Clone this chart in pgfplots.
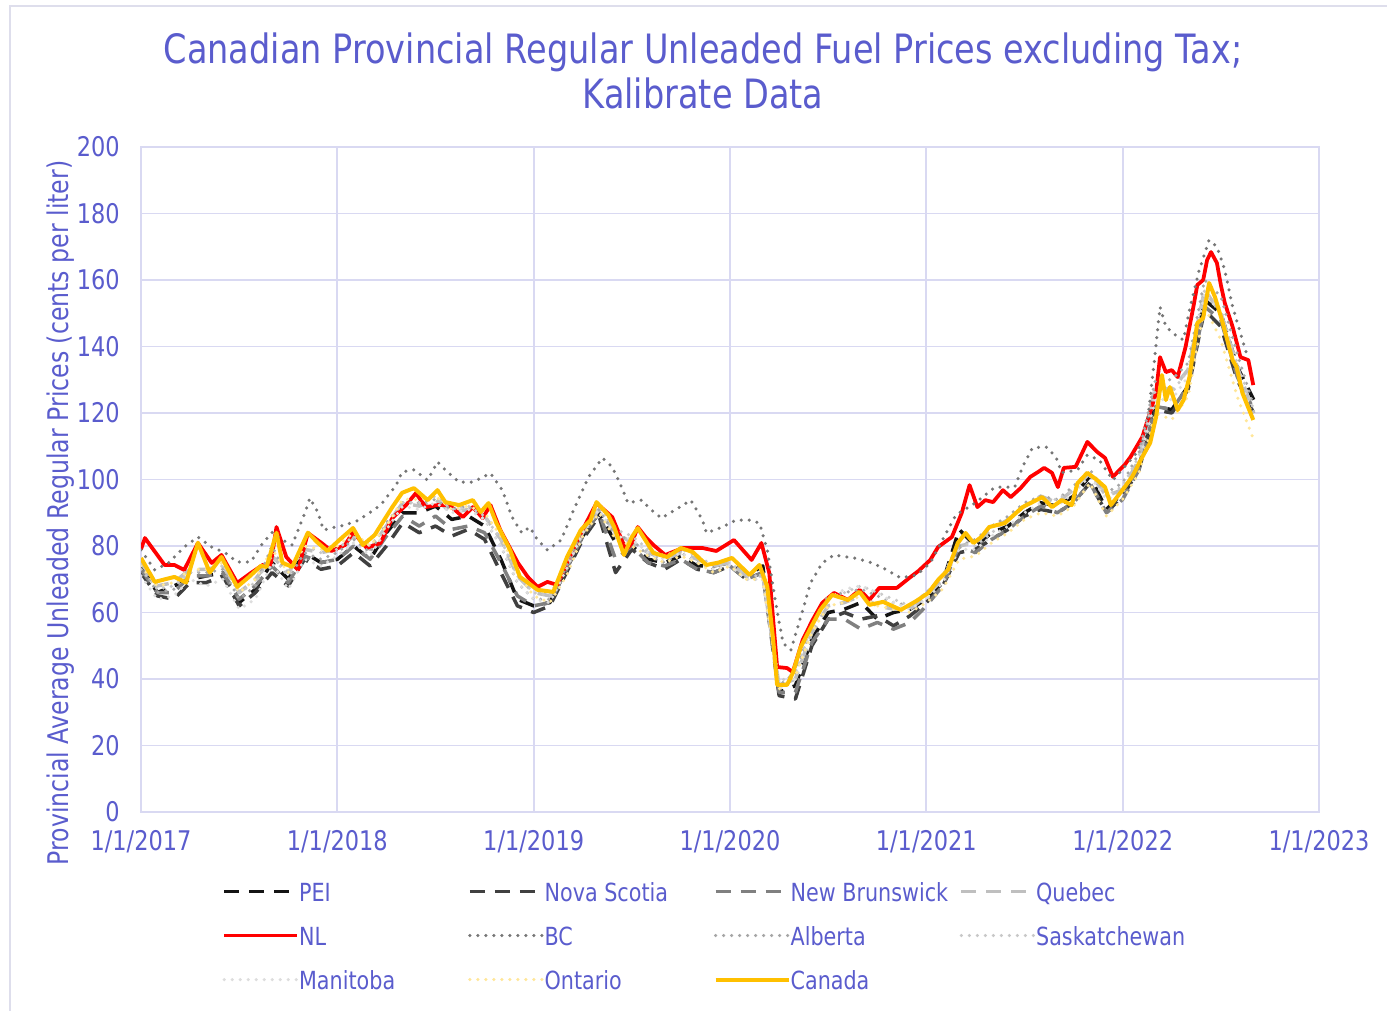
\documentclass[border=0pt]{standalone}
\usepackage{fontspec}
\setmainfont{DejaVu Sans}[FakeStretch=0.83]
\usepackage{pgfplots}
\usepackage{pgfplotstable}
\pgfplotsset{compat=1.18}

\definecolor{txt}{RGB}{90,92,205}
\definecolor{gridc}{RGB}{217,217,242}
\definecolor{framec}{RGB}{222,222,236}
\definecolor{peic}{RGB}{20,20,20}
\definecolor{nsc}{RGB}{64,64,64}
\definecolor{nbc}{RGB}{128,128,128}
\definecolor{qcc}{RGB}{191,191,191}
\definecolor{nlc}{RGB}{255,0,0}
\definecolor{bcc}{RGB}{118,118,118}
\definecolor{abc}{RGB}{166,166,166}
\definecolor{skc}{RGB}{200,200,200}
\definecolor{mbc}{RGB}{221,221,221}
\definecolor{onc}{RGB}{255,230,153}
\definecolor{cac}{RGB}{255,192,0}

% pixel position of the reference -> picture coordinates (1 px = 0.2 mm)
\newcommand\px[2]{({((#1)-141)*0.2},{(812-(#2))*0.2})}

% monthly values of the provinces drawn in grey / light yellow
\pgfplotstableread{
x        pei ns  nb  qc  ab  sk  mb  on
2017.000 74  72  73  75  74  73  71  74
2017.083 66  65  66  68  66  67  64  68
2017.167 68  64  66  69  67  68  65  69
2017.250 70  69  71  73  72  72  70  73
2017.333 71  69  71  73  72  73  68  73
2017.417 72  71  72  74  73  74  70  75
2017.500 63  62  64  66  64  66  61  66
2017.583 67  66  68  70  68  69  64  70
2017.667 75  72  74  77  80  77  75  79
2017.750 70  68  69  72  70  71  67  72
2017.833 78  76  77  79  78  80  76  80
2017.917 75  73  75  78  76  78  74  79
2018.000 76  74  76  79  78  79  77  80
2018.083 80  78  80  83  82  83  81  84
2018.167 76  74  76  79  78  80  77  80
2018.250 84  80  83  86  87  86  85  86
2018.333 90  87  89  93  93  93  92  94
2018.417 90  84  86  92  93  93  91  94
2018.500 92  86  89  94  94  95  93  95
2018.583 88  83  85  90  91  91  90  91
2018.667 89  85  86  91  92  92  91  92
2018.750 86  82  84  89  88  89  88  90
2018.833 76  72  75  82  80  82  80  83
2018.917 64  62  65  71  69  71  69  72
2019.000 62  60  62  66  64  66  64  65
2019.083 63  62  63  65  64  65  63  63
2019.167 73  72  73  74  74  75  73  71
2019.250 83  82  83  84  85  85  84  83
2019.333 90  89  90  91  91  92  91  90
2019.417 81  72  76  84  83  85  83  82
2019.500 80  79  80  81  82  83  82  80
2019.583 76  75  75  78  77  79  78  77
2019.667 75  73  74  76  75  77  76  75
2019.750 77  76  76  78  78  79  78  77
2019.833 74  73  73  76  75  77  75  75
2019.917 74  72  72  74  73  74  73  72
2020.000 75  74  74  75  74  75  74  74
2020.083 71  70  70  71  70  71  70  70
2020.167 74  72  72  71  70  71  70  70
2020.250 36  35  36  38  38  39  37  37
2020.333 38  34  36  40  42  42  40  41
2020.417 52  50  51  54  56  56  55  54
2020.500 60  58  58  62  65  64  64  62
2020.583 61  60  58  63  66  66  67  63
2020.667 63  58  55  65  67  68  68  65
2020.750 58  59  57  62  65  66  66  62
2020.833 60  56  55  61  63  64  63  61
2020.917 61  59  57  61  62  62  61  60
2021.000 64  63  62  65  66  66  64  63
2021.083 69  68  68  70  71  71  69  67
2021.167 85  78  80  80  80  81  79  76
2021.250 80  79  78  81  82  80  79  77
2021.333 84  82  82  85  86  84  83  81
2021.417 86  85  85  88  89  88  86  84
2021.500 90  89  89  92  93  92  90  88
2021.583 93  91  92  95  95  94  93  90
2021.667 92  90  90  93  94  94  92  89
2021.750 95  93  93  97  98  97  96  92
2021.833 101 99  99  102 103 102 101 99
2021.917 91  90  90  95  96  95  94  89
2022.000 96  95  94  97  99  98  96  94
2022.083 104 103 103 106 108 107 105 102
2022.167 122 121 122 128 130 127 124 120
2022.250 121 120 121 127 130 126 124 118
2022.333 128 127 128 133 135 133 131 125
2022.417 154 151 152 157 160 157 156 152
2022.500 150 146 148 150 155 151 150 142
2022.583 134 130 131 134 138 135 133 125
2022.667 124 120 121 120 122 121 118 112
}\prov

\begin{document}
\begin{tikzpicture}[x=1mm,y=1mm]
\useasboundingbox \px{0}{0} rectangle \px{1387}{1010};
\draw[framec, line width=0.35mm] \px{10}{1015} -- \px{10}{6} -- \px{1392}{6};

\begin{axis}[
  at={(0,0)}, anchor=south west,
  scale only axis, width=235.6mm, height=133mm,
  xmin=2017, xmax=2023, ymin=0, ymax=200,
  xtick={2017,2018,...,2023},
  xticklabels={1/1/2017,1/1/2018,1/1/2019,1/1/2020,1/1/2021,1/1/2022,1/1/2023},
  ytick={0,20,...,200},
  grid=major,
  grid style={gridc, line width=0.35mm},
  axis line style={gridc, line width=0.35mm},
  major tick length=0pt,
  /pgf/number format/assume math mode=true,
  tick label style={font=\fontsize{15.4}{17}\selectfont, text=txt},
  yticklabel style={inner sep=0pt, anchor=east, xshift=-4.2mm},
  xticklabel style={inner sep=0pt, anchor=north, yshift=-3.7mm},
  legend columns=4,
  legend cell align=left,
  legend style={at={(rel axis cs:0.06876,-0.1083)}, anchor=north west,
    draw=none, fill=none, inner sep=0pt, column sep=0pt, row sep=4.4mm,
    nodes={inner sep=0pt, text height=3.5mm, text depth=0.9mm,
      font=\fontsize{14.2}{16}\selectfont, text=txt}},
  legend image code/.code={
    \draw[#1] (0mm,0.4ex) -- (14.6mm,0.4ex);
    \path (14.4mm,0mm);
  },
  every axis plot/.append style={line join=round},
  dashed line/.style={line width=0.7mm, dash pattern=on 3mm off 2mm},
  dotted line/.style={line width=0.7mm, line cap=round, dash pattern=on 0pt off 1.6mm},
]

\addplot[peic, dashed line] table[x=x, y=pei] {\prov};
\addlegendentry{\makebox[33.8mm][l]{PEI}}
\addplot[nsc, dashed line] table[x=x, y=ns] {\prov};
\addlegendentry{\makebox[33.8mm][l]{Nova Scotia}}
\addplot[nbc, dashed line] table[x=x, y=nb] {\prov};
\addlegendentry{\makebox[33.8mm][l]{New Brunswick}}
\addplot[qcc, dashed line] table[x=x, y=qc] {\prov};
\addlegendentry{\makebox[33.8mm][l]{Quebec}}

\addplot[nlc, line width=0.75mm] coordinates {
(2017.00,79)(2017.02,82.4)(2017.12,74.3)(2017.17,74.3)(2017.22,72.8)(2017.29,80.9)
(2017.36,74.9)(2017.41,77.3)(2017.49,68.9)(2017.56,71.9)(2017.62,74.3)(2017.66,74.3)
(2017.69,85.7)(2017.74,76.7)(2017.80,72.8)(2017.85,83.9)(2017.92,80.9)(2017.97,78.5)
(2018.04,80.3)(2018.08,84.2)(2018.15,79.4)(2018.22,80.9)(2018.28,88.4)(2018.35,92.3)
(2018.40,95.9)(2018.45,91.7)(2018.51,92.3)(2018.57,92.3)(2018.64,88.7)(2018.69,91.7)
(2018.74,88.4)(2018.78,92.3)(2018.83,84.8)(2018.92,74.9)(2018.97,70.7)(2019.02,67.7)
(2019.07,69.2)(2019.12,68.3)(2019.16,73.7)(2019.23,82.7)(2019.32,92.9)(2019.40,88.7)
(2019.47,78.8)(2019.50,80.9)(2019.53,85.7)(2019.57,82.7)(2019.61,80.3)(2019.67,77.3)
(2019.76,79.4)(2019.86,79.4)(2019.93,78.5)(2020.02,81.8)(2020.11,75.8)(2020.16,80.9)
(2020.20,71.9)(2020.24,43.6)(2020.29,43.3)(2020.32,42.1)(2020.37,51.7)(2020.42,57.7)
(2020.47,62.9)(2020.53,65.9)(2020.60,63.8)(2020.66,66.8)(2020.71,63.8)(2020.76,67.4)
(2020.85,67.4)(2020.92,70.7)(2020.96,72.5)(2021.02,75.8)(2021.06,79.7)(2021.13,82.7)
(2021.18,89.9)(2021.22,98.3)(2021.26,91.7)(2021.30,93.8)(2021.34,93.2)(2021.39,96.8)
(2021.43,94.7)(2021.48,97.4)(2021.53,100.8)(2021.57,102.3)(2021.60,103.5)(2021.64,102)
(2021.67,97.7)(2021.70,103.5)(2021.76,103.8)(2021.82,111.3)(2021.87,108.3)(2021.91,106.5)
(2021.95,100.8)(2022.01,104.4)(2022.04,106.8)(2022.10,112.8)(2022.14,120.3)(2022.17,126)
(2022.19,136.8)(2022.22,132.3)(2022.25,132.9)(2022.28,130.8)(2022.32,139.8)(2022.36,151.9)
(2022.38,158.5)(2022.41,160)(2022.43,166)(2022.45,168.4)(2022.48,165.1)(2022.50,158.5)
(2022.52,153.1)(2022.56,145.9)(2022.60,136.8)(2022.64,135.9)(2022.665,128.4)
};
\addlegendentry{\makebox[33.8mm][l]{NL}}

\addplot[bcc, dotted line] coordinates {
(2017.00,78.8)(2017.07,72.8)(2017.14,74.9)(2017.22,79.7)(2017.29,82.7)(2017.36,79.7)
(2017.43,77.9)(2017.49,75.2)(2017.56,75.2)(2017.62,80.9)(2017.67,84.2)(2017.72,81.8)
(2017.77,80.3)(2017.84,90.8)(2017.86,94.4)(2017.90,90.2)(2017.93,84.8)(2017.99,85.7)
(2018.04,86.3)(2018.11,87.8)(2018.22,92.3)(2018.30,98.3)(2018.33,102.3)(2018.39,102.9)
(2018.46,99.8)(2018.51,105.3)(2018.56,102.3)(2018.62,99.2)(2018.69,99.2)(2018.78,101.9)
(2018.84,96.8)(2018.89,88.7)(2018.94,83.9)(2018.98,85.7)(2019.02,81.8)(2019.07,78.8)
(2019.14,81.8)(2019.21,91.7)(2019.28,100.8)(2019.35,106.5)(2019.40,103.8)(2019.45,97.4)
(2019.48,92.9)(2019.55,93.8)(2019.60,90.8)(2019.65,88.4)(2019.72,90.8)(2019.80,93.8)
(2019.86,87.8)(2019.88,83.9)(2019.96,85.7)(2020.03,87.8)(2020.10,87.8)(2020.15,86.9)
(2020.19,78.8)(2020.23,63.8)(2020.27,50.8)(2020.31,48.7)(2020.36,58.6)(2020.41,68.9)
(2020.47,74.9)(2020.53,77.3)(2020.63,76.4)(2020.71,75.2)(2020.78,73.4)(2020.87,70.4)
(2020.95,71.3)(2021.02,74.9)(2021.15,89.3)(2021.25,93)(2021.35,97.7)(2021.45,97.7)
(2021.49,103.8)(2021.54,109.5)(2021.61,109.8)(2021.66,106.8)(2021.69,102)(2021.77,102.9)
(2021.82,107.4)(2021.88,105.9)(2021.95,99.8)(2022.01,103.8)(2022.07,108)(2022.12,114)
(2022.16,135)(2022.19,151.9)(2022.22,145.9)(2022.28,142.9)(2022.31,142)(2022.34,151)
(2022.39,163)(2022.44,172)(2022.48,170)(2022.52,163)(2022.56,151.9)(2022.60,144)
(2022.635,137)
};
\addlegendentry{\makebox[33.8mm][l]{BC}}

\addplot[abc, dotted line] table[x=x, y=ab] {\prov};
\addlegendentry{\makebox[33.8mm][l]{Alberta}}
\addplot[skc, dotted line] table[x=x, y=sk] {\prov};
\addlegendentry{\makebox[33.8mm][l]{Saskatchewan}}
\addplot[mbc, dotted line] table[x=x, y=mb] {\prov};
\addlegendentry{\makebox[33.8mm][l]{Manitoba}}
\addplot[onc, dotted line] table[x=x, y=on] {\prov};
\addlegendentry{\makebox[33.8mm][l]{Ontario}}

\addplot[cac, line width=0.8mm] coordinates {
(2017.00,76.4)(2017.07,69.2)(2017.17,70.7)(2017.23,69)(2017.29,81)(2017.35,72)
(2017.41,76.7)(2017.49,67.7)(2017.55,70.7)(2017.61,74)(2017.64,73.7)(2017.69,84)
(2017.72,75)(2017.77,73.7)(2017.85,84)(2017.90,81)(2017.95,78.5)(2018.01,81.8)
(2018.08,85.4)(2018.13,80.3)(2018.19,83.3)(2018.28,91.7)(2018.33,96)(2018.39,97.4)
(2018.46,93.8)(2018.51,96.8)(2018.55,93.2)(2018.62,92.3)(2018.69,93.8)(2018.73,90.2)
(2018.77,92.9)(2018.81,86.9)(2018.88,78.8)(2018.93,70.7)(2018.97,69)(2019.02,66.8)
(2019.10,66.2)(2019.17,76.7)(2019.24,84.8)(2019.29,87.8)(2019.32,93.2)(2019.38,89.3)
(2019.41,85.7)(2019.46,77.3)(2019.50,82.7)(2019.53,85.4)(2019.61,77.9)(2019.68,76.7)
(2019.75,79.4)(2019.81,78.2)(2019.88,74.3)(2019.94,75)(2020.01,76.4)(2020.10,71.3)
(2020.15,74.3)(2020.19,67.7)(2020.22,51.7)(2020.24,38.2)(2020.29,38.2)(2020.32,41.8)
(2020.36,49.6)(2020.41,55.3)(2020.46,60.8)(2020.52,65.3)(2020.60,63.8)(2020.66,66.2)
(2020.71,62.3)(2020.78,63.2)(2020.87,60.8)(2020.95,63.5)(2021.01,65.9)(2021.06,69.8)
(2021.11,72.8)(2021.16,80.9)(2021.20,83.9)(2021.24,80.9)(2021.28,82.7)(2021.32,85.7)
(2021.40,86.9)(2021.49,91.7)(2021.54,93.2)(2021.59,94.7)(2021.64,91.7)(2021.69,93.8)
(2021.74,92.3)(2021.77,98.9)(2021.82,102)(2021.87,99.8)(2021.91,97.7)(2021.94,92.3)
(2022.01,97.7)(2022.05,101)(2022.10,106.8)(2022.14,111)(2022.17,118.8)(2022.20,131.4)
(2022.22,123.9)(2022.24,127.8)(2022.28,120.9)(2022.31,123.9)(2022.34,130.8)(2022.38,147)
(2022.41,148.6)(2022.44,159.1)(2022.47,154.9)(2022.51,147)(2022.56,135.9)(2022.58,133.8)
(2022.61,126)(2022.665,117.9)
};
\addlegendentry{\makebox[33.8mm][l]{Canada}}
\end{axis}

\node[text=txt, align=center, font=\fontsize{23}{25.4}\selectfont] at \px{703}{71}
  {Canadian Provincial Regular Unleaded Fuel Prices excluding Tax;\\Kalibrate Data};
\node[text=txt, rotate=90, font=\fontsize{16.2}{18}\selectfont] at \px{61}{513}
  {Provincial Average Unleaded Regular Prices (cents per liter)};
\end{tikzpicture}
\end{document}
